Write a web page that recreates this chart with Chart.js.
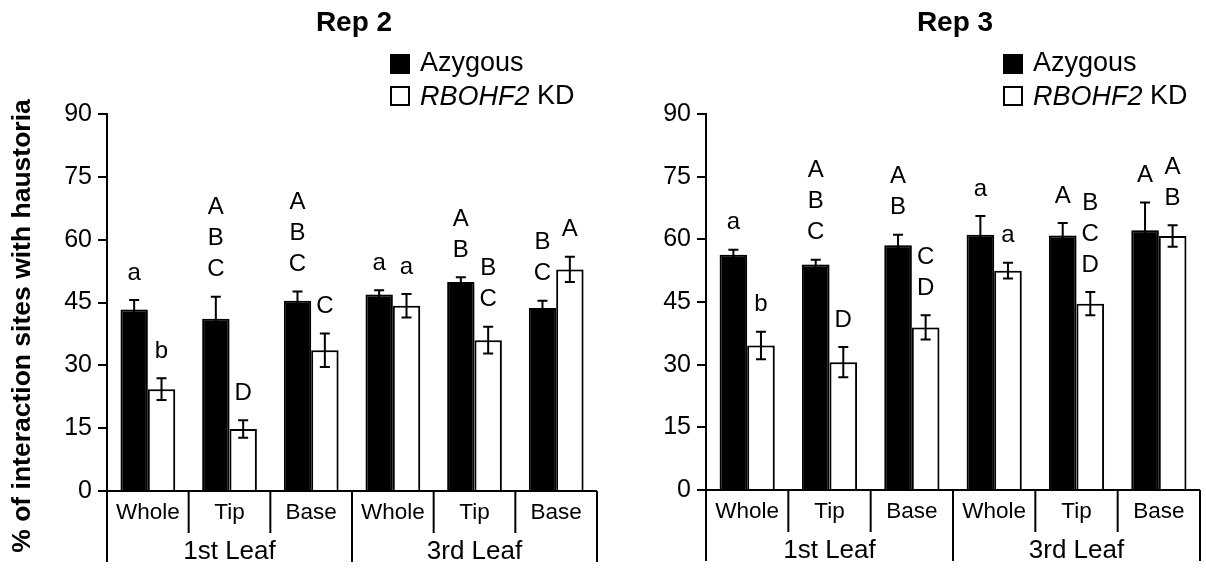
<!DOCTYPE html>
<html>
<head>
<meta charset="utf-8">
<script src="https://cdn.jsdelivr.net/npm/chart.js@4.4.1/dist/chart.umd.min.js"></script>
<style>
  html, body { margin: 0; padding: 0; background: #fff; }
  #wrap { display: flex; width: 1206px; height: 572px; }
  canvas { display: block; }
</style>
</head>
<body>
<div id="wrap">
  <canvas id="rep2" width="603" height="572"></canvas>
  <canvas id="rep3" width="603" height="572"></canvas>
</div>
<script>
// Leaf sections (x categories) and the leaves they belong to
const sections = ['Whole', 'Tip', 'Base', 'Whole', 'Tip', 'Base'];
const leaves = ['1st Leaf', '3rd Leaf'];
const sectionsPerLeaf = 3;
const yTicks = [0, 15, 30, 45, 60, 75, 90];

// Rep 2: % of interaction sites with haustoria (mean, SE) and significance groups
const rep2Azygous = [43.3, 41.1, 45.4, 46.9, 49.9, 43.7];
const rep2AzygousErr = [2.3, 5.3, 2.2, 1.0, 1.1, 1.7];
const rep2Kd = [24.3, 14.8, 33.6, 44.2, 36.0, 52.9];
const rep2KdErr = [2.6, 2.1, 4.0, 2.8, 3.2, 3.0];
const rep2AzygousGroups = ['a', 'ABC', 'ABC', 'a', 'AB', 'BC'];
const rep2KdGroups = ['b', 'D', 'C', 'a', 'BC', 'A'];

// Rep 3
const rep3Azygous = [56.3, 54.0, 58.6, 61.1, 60.9, 62.2];
const rep3AzygousErr = [1.2, 1.1, 2.5, 4.5, 3.0, 6.6];
const rep3Kd = [34.6, 30.6, 38.9, 52.5, 44.6, 60.8];
const rep3KdErr = [3.3, 3.6, 2.9, 1.9, 2.8, 2.6];
const rep3AzygousGroups = ['a', 'ABC', 'AB', 'a', 'A', 'A'];
const rep3KdGroups = ['b', 'D', 'CD', 'a', 'BCD', 'AB'];

const FONT = '"Liberation Sans", Arial, Helvetica, sans-serif';
const INK = '#000';

// Soft drop shadow behind the bars
const barShadow = {
  id: 'barShadow',
  beforeDatasetsDraw(chart) {
    const ctx = chart.ctx;
    ctx.save();
    ctx.shadowColor = 'rgba(0,0,0,0.28)';
    ctx.shadowBlur = 5;
    ctx.shadowOffsetX = 3;
    ctx.shadowOffsetY = 0;
  },
  afterDatasetsDraw(chart) {
    chart.ctx.restore();
  }
};

// Error bars, group letters, grouped category axis, title and legend
const decorations = {
  id: 'decorations',
  afterDatasetsDraw(chart) {
    const ctx = chart.ctx;
    const yScale = chart.scales.y;

    ctx.save();
    ctx.strokeStyle = INK;
    ctx.fillStyle = INK;
    ctx.lineWidth = 2;
    chart.data.datasets.forEach((ds, di) => {
      const meta = chart.getDatasetMeta(di);
      meta.data.forEach((bar, i) => {
        const v = ds.data[i], e = ds.errors[i];
        const yt = yScale.getPixelForValue(v + e);
        const yb = yScale.getPixelForValue(v - e);
        // error bar with caps
        ctx.beginPath();
        ctx.moveTo(bar.x, yb); ctx.lineTo(bar.x, yt);
        ctx.moveTo(bar.x - 5, yt); ctx.lineTo(bar.x + 5, yt);
        ctx.moveTo(bar.x - 5, yb); ctx.lineTo(bar.x + 5, yb);
        ctx.stroke();
        // significance letters stacked above the error bar
        const letters = ds.groups[i].split('');
        ctx.font = '24px ' + FONT;
        ctx.textAlign = 'center';
        ctx.textBaseline = 'middle';
        letters.forEach((ch, k) => {
          const yy = yt - 27 - (letters.length - 1 - k) * 31;
          ctx.fillText(ch, bar.x, yy);
        });
      });
    });
    ctx.restore();
  },
  afterDraw(chart, args, opts) {
    const ctx = chart.ctx;
    const area = chart.chartArea;
    const xScale = chart.scales.x;
    const n = sections.length;
    ctx.save();
    ctx.strokeStyle = INK;
    ctx.fillStyle = INK;
    ctx.lineWidth = 2;

    // x axis baseline
    ctx.beginPath();
    ctx.moveTo(area.left, area.bottom);
    ctx.lineTo(area.right, area.bottom);
    ctx.stroke();

    // separators between sections and leaves
    for (let i = 0; i <= n; i++) {
      const x = i === 0 ? area.left : i === n ? area.right
        : (xScale.getPixelForValue(i - 1) + xScale.getPixelForValue(i)) / 2;
      const long = i % sectionsPerLeaf === 0;
      ctx.beginPath();
      ctx.moveTo(x, area.bottom);
      ctx.lineTo(x, area.bottom + (long ? 71 : 42));
      ctx.stroke();
    }

    // section labels
    ctx.textAlign = 'center';
    ctx.textBaseline = 'middle';
    ctx.font = '22.5px ' + FONT;
    sections.forEach((s, i) => {
      ctx.fillText(s, xScale.getPixelForValue(i), area.bottom + 22);
    });
    // leaf labels
    ctx.font = '26px ' + FONT;
    leaves.forEach((lf, j) => {
      const a = xScale.getPixelForValue(j * sectionsPerLeaf);
      const b = xScale.getPixelForValue(j * sectionsPerLeaf + sectionsPerLeaf - 1);
      ctx.fillText(lf, (a + b) / 2, area.bottom + 61);
    });

    // panel title
    ctx.font = 'bold 28px ' + FONT;
    ctx.fillText(opts.title, (area.left + area.right) / 2 + 2, 23);

    // legend
    const lx = opts.legendX;
    ctx.fillRect(lx, 54, 20, 20);
    ctx.lineWidth = 2;
    ctx.strokeRect(lx + 1, 87, 18, 18);
    ctx.textAlign = 'left';
    ctx.font = '27px ' + FONT;
    ctx.fillText(chart.data.datasets[0].label, lx + 30, 64);
    const name = chart.data.datasets[1].label.split(' ');
    ctx.font = 'italic 27px ' + FONT;
    ctx.fillText(name[0], lx + 30, 97);
    const w = ctx.measureText(name[0]).width;
    ctx.font = '27px ' + FONT;
    ctx.fillText(' ' + name.slice(1).join(' '), lx + 30 + w, 97);

    // y axis title
    if (opts.yTitle) {
      ctx.save();
      ctx.translate(23, 326);
      ctx.rotate(-Math.PI / 2);
      ctx.textAlign = 'center';
      ctx.font = 'bold 26.5px ' + FONT;
      ctx.fillText(opts.yTitle, 0, 0);
      ctx.restore();
    }
    ctx.restore();
  }
};

function makeChart(id, azy, azyErr, azyGroups, kd, kdErr, kdGroups, cfg) {
  return new Chart(document.getElementById(id), {
    type: 'bar',
    data: {
      labels: sections.map((s, i) => leaves[Math.floor(i / sectionsPerLeaf)] + ' ' + s),
      datasets: [
        {
          label: 'Azygous', data: azy, errors: azyErr, groups: azyGroups,
          backgroundColor: '#000', borderColor: '#000', borderWidth: 2
        },
        {
          label: 'RBOHF2 KD', data: kd, errors: kdErr, groups: kdGroups,
          backgroundColor: '#fff', borderColor: '#000', borderWidth: 2
        }
      ]
    },
    options: {
      responsive: false,
      animation: false,
      events: [],
      layout: { padding: { left: 0, right: 6, top: 114, bottom: cfg.bottomPad } },
      datasets: { bar: { categoryPercentage: 0.67, barPercentage: 1.0 } },
      plugins: {
        legend: { display: false },
        title: { display: false },
        tooltip: { enabled: false },
        decorations: { title: cfg.title, legendX: cfg.legendX, yTitle: cfg.yTitle }
      },
      scales: {
        x: { display: false, offset: true },
        y: {
          min: 0, max: 90,
          afterBuildTicks: s => { s.ticks = yTicks.map(v => ({ value: v })); },
          afterFit: s => { s.width = cfg.axisWidth; },
          ticks: { color: INK, font: { family: FONT, size: 25 }, padding: 6 },
          grid: { drawOnChartArea: false, drawTicks: true, tickLength: 9, color: INK, lineWidth: 2 },
          border: { display: true, color: INK, width: 2 }
        }
      }
    },
    plugins: [barShadow, decorations]
  });
}

makeChart('rep2', rep2Azygous, rep2AzygousErr, rep2AzygousGroups, rep2Kd, rep2KdErr, rep2KdGroups,
  { title: 'Rep 2', legendX: 390, yTitle: '% of interaction sites with haustoria', axisWidth: 107, bottomPad: 81 });
makeChart('rep3', rep3Azygous, rep3AzygousErr, rep3AzygousGroups, rep3Kd, rep3KdErr, rep3KdGroups,
  { title: 'Rep 3', legendX: 400, yTitle: null, axisWidth: 103, bottomPad: 82 });
</script>
</body>
</html>
